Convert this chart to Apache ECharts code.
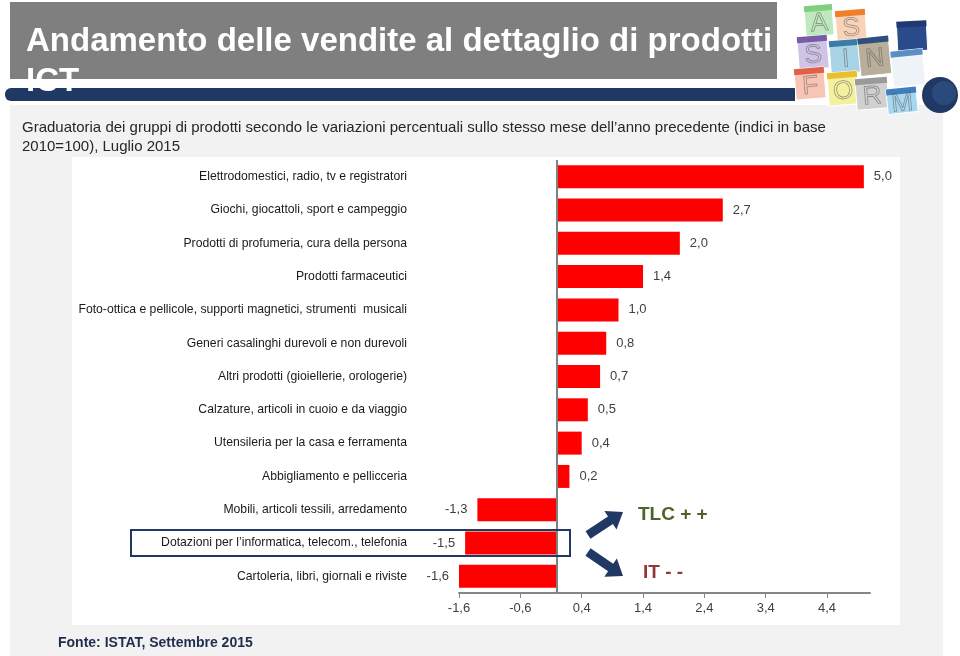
<!DOCTYPE html>
<html>
<head>
<meta charset="utf-8">
<script src="https://cdn.jsdelivr.net/npm/echarts@6/dist/echarts.min.js"></script>
<style>
html,body{margin:0;padding:0;background:#fff;}
#c{width:960px;height:656px;}
</style>
</head>
<body>
<div id="c"></div>
<script>
const categories = [
  'Elettrodomestici, radio, tv e registratori',
  'Giochi, giocattoli, sport e campeggio',
  'Prodotti di profumeria, cura della persona',
  'Prodotti farmaceutici',
  'Foto-ottica e pellicole, supporti magnetici, strumenti  musicali',
  'Generi casalinghi durevoli e non durevoli',
  'Altri prodotti (gioiellerie, orologerie)',
  'Calzature, articoli in cuoio e da viaggio',
  'Utensileria per la casa e ferramenta',
  'Abbigliamento e pellicceria',
  'Mobili, articoli tessili, arredamento',
  'Dotazioni per l\u2019informatica, telecom., telefonia',
  'Cartoleria, libri, giornali e riviste'
];
const values = [5.0, 2.7, 2.0, 1.4, 1.0, 0.8, 0.7, 0.5, 0.4, 0.2, -1.3, -1.5, -1.6];
const xTicks = [-1.6, -0.6, 0.4, 1.4, 2.4, 3.4, 4.4];
const highlighted = 'Dotazioni per l\u2019informatica, telecom., telefonia';

const fmt = v => Number(v).toFixed(1).replace('.', ',');
const FONT = '"Liberation Sans", Arial, sans-serif';

function arrowPoints(x1, y1, x2, y2, sw, hw, hl) {
  const dx = x2 - x1, dy = y2 - y1, L = Math.hypot(dx, dy);
  const ux = dx / L, uy = dy / L, nx = -uy, ny = ux;
  const bx = x2 - ux * hl, by = y2 - uy * hl;
  return [
    [x1 + nx * sw / 2, y1 + ny * sw / 2],
    [bx + nx * sw / 2, by + ny * sw / 2],
    [bx + nx * hw / 2, by + ny * hw / 2],
    [x2, y2],
    [bx - nx * hw / 2, by - ny * hw / 2],
    [bx - nx * sw / 2, by - ny * sw / 2],
    [x1 - nx * sw / 2, y1 - ny * sw / 2]
  ];
}

const logoTiles = [
  {x: 805, y: 5, w: 28, h: 31, rot: 0.08, fill: '#bfe8bf', head: '#7fcf7f', letter: 'A'},
  {x: 836, y: 10, w: 30, h: 31, rot: 0.08, fill: '#f9d3b8', head: '#ef7f2a', letter: 'S'},
  {x: 897, y: 21, w: 30, h: 30, rot: 0.05, fill: '#2b4a8a', head: '#1f3a70', letter: ''},
  {x: 798, y: 36, w: 30, h: 33, rot: 0.08, fill: '#cfc3e6', head: '#7a5ba8', letter: 'S'},
  {x: 830, y: 40, w: 31, h: 33, rot: 0.08, fill: '#a9d4e6', head: '#3a7ca8', letter: 'I'},
  {x: 859, y: 37, w: 31, h: 38, rot: 0.1, fill: '#b8ae9a', head: '#2f4f7f', letter: 'N'},
  {x: 892, y: 50, w: 32, h: 36, rot: 0.1, fill: '#eef3f8', head: '#5b8fc4', letter: ''},
  {x: 795, y: 68, w: 30, h: 31, rot: 0.08, fill: '#f8c4b4', head: '#e0604a', letter: 'F'},
  {x: 828, y: 72, w: 30, h: 33, rot: 0.08, fill: '#f5f0a0', head: '#e8c030', letter: 'O'},
  {x: 856, y: 78, w: 32, h: 31, rot: 0.08, fill: '#d0d0d0', head: '#9a9a9a', letter: 'R'},
  {x: 887, y: 88, w: 30, h: 25, rot: 0.1, fill: '#a8d8f0', head: '#3f7fc0', letter: 'M'}
];

const chart = echarts.init(document.getElementById('c'), null, {renderer: 'canvas'});

const staticGraphics = [
  {type: 'rect', z: -10, shape: {x: 10, y: 105, width: 933, height: 551}, style: {fill: '#f2f2f2'}, silent: true},
  {type: 'rect', z: -9, shape: {x: 72, y: 157, width: 828, height: 468}, style: {fill: '#ffffff'}, silent: true},
  {type: 'rect', z: -8, shape: {x: 10, y: 2, width: 767, height: 77}, style: {fill: '#7f7f7f'}, silent: true},
  {type: 'rect', z: -8, shape: {x: 5, y: 88, width: 790, height: 13, r: [6, 0, 0, 6]}, style: {fill: '#1f3864'}, silent: true},
  {type: 'text', z: 5, x: 26, y: 42, style: {text: 'Andamento delle vendite al dettaglio di prodotti', fill: '#ffffff', font: 'bold 33px ' + FONT, verticalAlign: 'middle'}},
  {type: 'text', z: 5, x: 26, y: 82, style: {text: 'ICT', fill: '#ffffff', font: 'bold 33px ' + FONT, verticalAlign: 'middle'}},
  {type: 'text', z: 5, left: 22, top: 118, style: {text: 'Graduatoria dei gruppi di prodotti secondo le variazioni percentuali sullo stesso mese dell\u2019anno precedente (indici in base\n2010=100), Luglio 2015', fill: '#262626', font: '15px ' + FONT, lineHeight: 19}},
  {type: 'text', z: 5, left: 58, top: 636, style: {text: 'Fonte: ISTAT, Settembre 2015', fill: '#1f2d4d', font: 'bold 14px ' + FONT}},
  {type: 'circle', z: 4, shape: {cx: 940, cy: 95, r: 18}, style: {fill: '#1f3864'}},
  {type: 'circle', z: 4, shape: {cx: 944, cy: 93, r: 12}, style: {fill: '#2b4a7c'}}
];
logoTiles.forEach(t => {
  const g = {type: 'group', z: 3, x: t.x + t.w / 2, y: t.y + t.h / 2, rotation: t.rot, children: [
    {type: 'rect', shape: {x: -t.w / 2, y: -t.h / 2, width: t.w, height: t.h}, style: {fill: t.fill, stroke: '#ffffff', lineWidth: 1}},
    {type: 'rect', shape: {x: -t.w / 2, y: -t.h / 2, width: t.w, height: 6}, style: {fill: t.head}}
  ]};
  if (t.letter) g.children.push({type: 'text', x: 0, y: 3, style: {text: t.letter, fill: 'rgba(0,0,0,0)', stroke: 'rgba(90,90,90,0.6)', lineWidth: 0.8, font: '26px ' + FONT, align: 'center', verticalAlign: 'middle'}});
  staticGraphics.push(g);
});

chart.setOption({
  animation: false,
  backgroundColor: '#ffffff',
  grid: {left: 459, right: 90, top: 160, bottom: 63},
  xAxis: {
    type: 'value', min: -1.6, max: 5.1, interval: 1,
    splitLine: {show: false},
    axisLine: {show: true, lineStyle: {color: '#868686', width: 2}},
    axisTick: {show: true, length: 5, lineStyle: {color: '#868686'}, customValues: xTicks},
    axisLabel: {color: '#404040', fontSize: 13, fontFamily: FONT, margin: 9, formatter: v => fmt(v), customValues: xTicks}
  },
  yAxis: {
    type: 'category', data: categories, inverse: true,
    axisLine: {show: false}, axisTick: {show: false},
    axisLabel: {color: '#1a1a1a', fontSize: 12.2, fontFamily: FONT, margin: 52}
  },
  series: [{
    type: 'bar',
    data: values.map(v => ({value: v, label: {position: v < 0 ? 'left' : 'right'}})),
    barCategoryGap: '31%',
    itemStyle: {color: '#ff0000'},
    label: {show: true, distance: 10, color: '#404040', fontSize: 13, fontFamily: FONT, formatter: p => fmt(p.value)},
    markLine: {
      silent: true, symbol: 'none', label: {show: false},
      lineStyle: {color: '#808080', type: 'solid', width: 2},
      data: [{xAxis: 0}]
    }
  }],
  graphic: staticGraphics
});

// annotations tied to the highlighted category row
const cy = chart.convertToPixel({yAxisIndex: 0}, highlighted);
const up = arrowPoints(588, cy - 8, 623, cy - 31, 9, 22, 15);
const dn = arrowPoints(588, cy + 9, 623, cy + 33, 9, 22, 15);
chart.setOption({
  graphic: staticGraphics.concat([
    {type: 'rect', z: 10, shape: {x: 131, y: cy - 13, width: 439, height: 26}, style: {fill: 'none', stroke: '#1f3864', lineWidth: 2}},
    {type: 'polygon', z: 10, shape: {points: up}, style: {fill: '#1f3864'}},
    {type: 'polygon', z: 10, shape: {points: dn}, style: {fill: '#1f3864'}},
    {type: 'text', z: 10, left: 638, top: cy - 38, style: {text: 'TLC + +', fill: '#4f6228', font: 'bold 19px ' + FONT}},
    {type: 'text', z: 10, left: 643, top: cy + 20, style: {text: 'IT - -', fill: '#943634', font: 'bold 19px ' + FONT}}
  ])
}, {replaceMerge: ['graphic']});
</script>
</body>
</html>
